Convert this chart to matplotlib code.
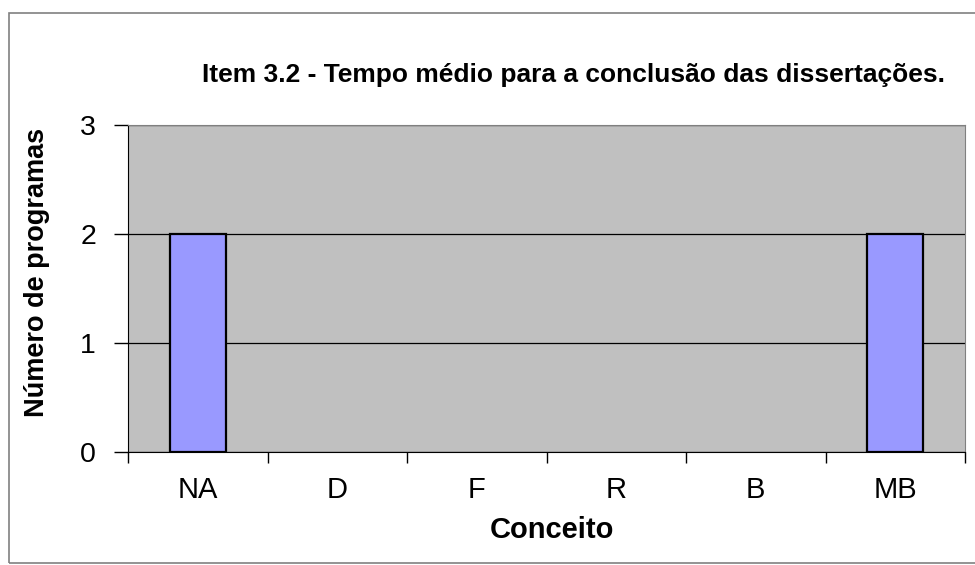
import matplotlib.pyplot as plt
import numpy as np
from matplotlib.patches import Rectangle

plt.rcParams['font.family'] = ['Liberation Sans', 'DejaVu Sans']

# data
categorias = ["NA", "D", "F", "R", "B", "MB"]
programas = [2, 0, 0, 0, 0, 2]
y_ticks = [0, 1, 2, 3]

fig = plt.figure(figsize=(9.75, 5.65), dpi=100)
ax = fig.add_axes([128 / 975, 1 - 452 / 565, (965 - 128) / 975, (452 - 125) / 565])

# outer frame around the chart
fig.patches.append(Rectangle((9 / 975, 0.004), 1.0, 1 - 13 / 565 - 0.004,
                             transform=fig.transFigure, fill=False,
                             edgecolor="#808080", linewidth=1.2))

x = np.arange(len(categorias))
ax.set_facecolor("#C0C0C0")
# empty categories get no outline
bordas = [1.6 if v else 0 for v in programas]
ax.bar(x, programas, width=0.4, color="#9999FF", edgecolor="black", linewidth=bordas, zorder=3)

ax.set_xlim(-0.5, len(categorias) - 0.5)
ax.set_ylim(0, 3)
ax.set_yticks(y_ticks)
ax.yaxis.grid(True, color="black", linewidth=0.9, zorder=1)
ax.set_axisbelow(True)

ax.set_xticks(x)
ax.set_xticklabels(categorias, fontsize=21)
ax.set_xticks(np.arange(len(categorias) + 1) - 0.5, minor=True)
ax.tick_params(axis="x", which="major", length=0, pad=17)
ax.tick_params(axis="x", which="minor", length=8, width=1, direction="out")
ax.tick_params(axis="y", length=10, width=1, labelsize=20.5, pad=13)

for s in ["top", "right"]:
    ax.spines[s].set_color("#808080")
for s in ["left", "bottom"]:
    ax.spines[s].set_color("black")

ax.set_xlabel("Conceito", fontsize=21, fontweight="bold", va="center")
ax.xaxis.set_label_coords((552 - 128) / 837, (452 - 530) / 327)
ax.set_ylabel("Número de programas", fontsize=19.5, fontweight="bold", va="center")
ax.yaxis.set_label_coords((37 - 128) / 837, (452 - 272) / 327)

fig.text(573 / 975, 1 - 82 / 565, "Item 3.2 - Tempo médio para a conclusão das dissertações.",
         ha="center", va="baseline", fontsize=19, fontweight="bold")

fig.savefig("out.png", dpi=100)
